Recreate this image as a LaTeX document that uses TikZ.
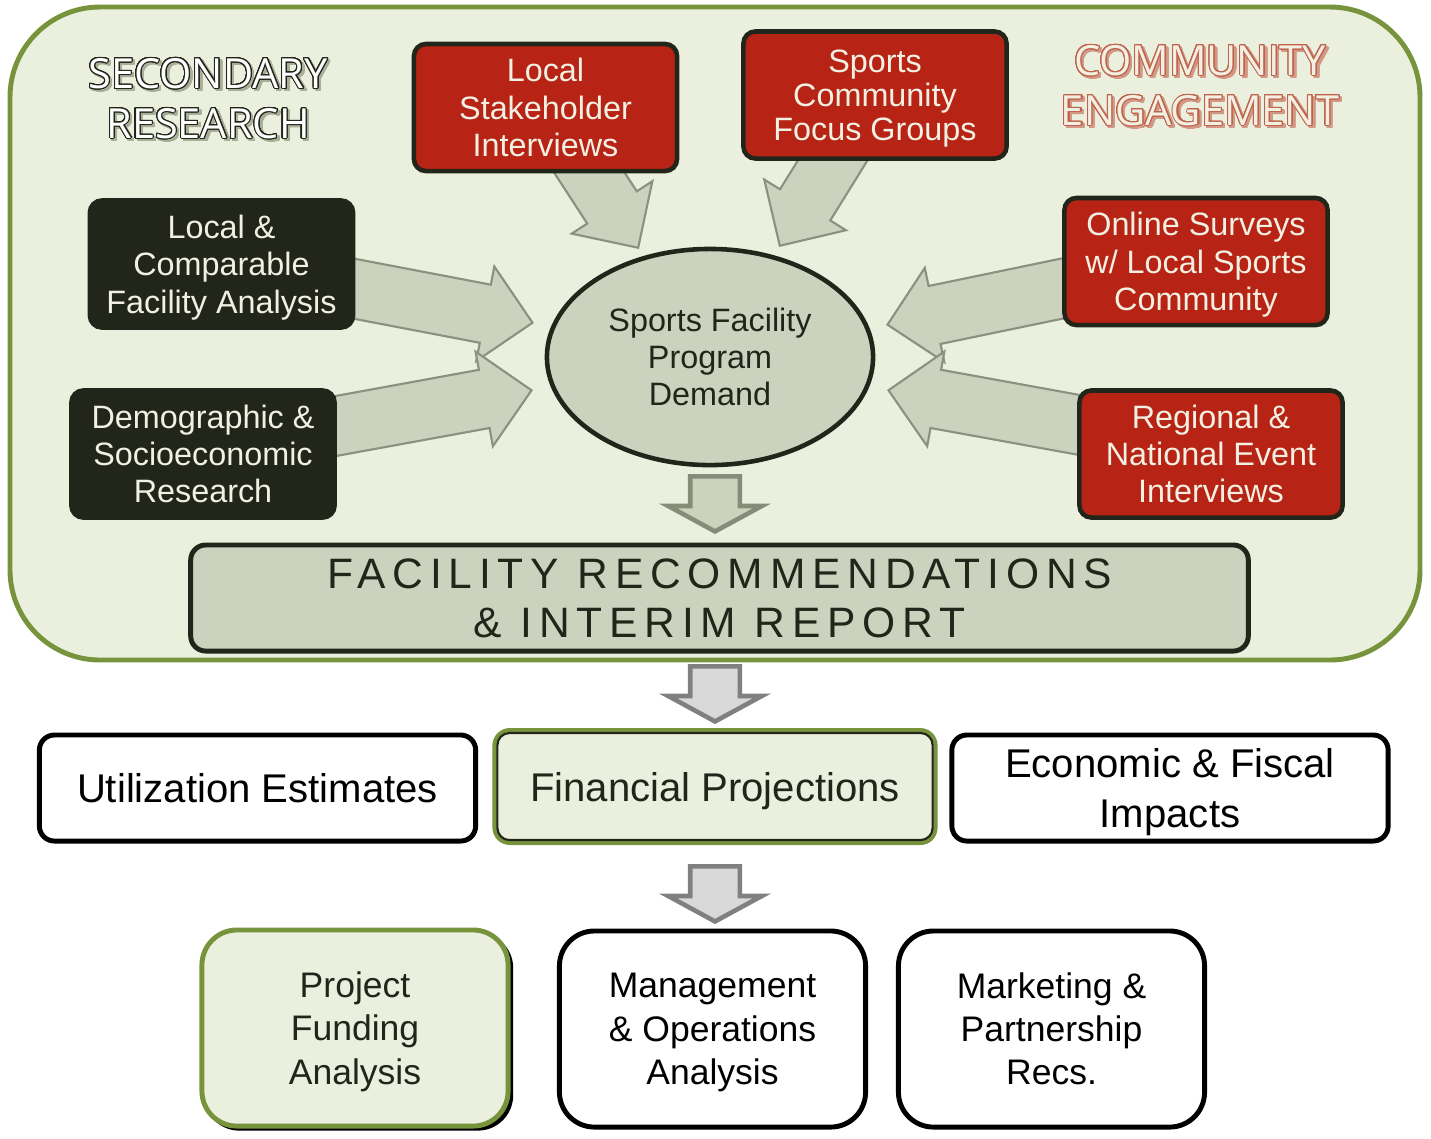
\documentclass[tikz,border=0pt]{standalone}
\usepackage{fontspec}
\setmainfont{Liberation Sans}
\newfontfamily\headfont{Open Sans}
\usepackage{contour}
\usetikzlibrary{shapes.geometric,shapes.arrows,shadows}

\definecolor{panelfill}{HTML}{EBF0DE}
\definecolor{olive}{HTML}{77933C}
\definecolor{darkbox}{HTML}{22261A}
\definecolor{redbox}{HTML}{B72314}
\definecolor{sage}{HTML}{CBD3BE}
\definecolor{sageline}{HTML}{8A917F}
\definecolor{sagedark}{HTML}{868C77}
\definecolor{cream}{HTML}{F2F0E2}
\definecolor{terra}{HTML}{C0634C}
\definecolor{terrashade}{HTML}{D29A86}
\definecolor{headshade}{HTML}{A9AE99}
\contourlength{0.3pt}
\contournumber{24}
% outlined word with a soft offset shadow behind it
\newcommand{\shadowword}[3]{\leavevmode\rlap{\kern0.7pt\raisebox{-0.7pt}{\color{#2}\contour{#2}{#3}}}\contour{#1}{#3}}

\begin{document}
\begin{tikzpicture}[x=0.01cm, y=-0.01cm,
  txt/.style={font=\fontsize{9.2}{10.6}\selectfont, align=center},
  darkbx/.style={txt, rectangle, rounded corners=0.12cm, fill=darkbox, draw=darkbox,
    line width=1.3pt, text=cream, minimum width=2.63cm, minimum height=1.27cm},
  redbx/.style={darkbx, fill=redbox},
  bigarrow/.style={single arrow, anchor=tip, fill=sage, draw=sageline, line width=0.6pt,
    inner xsep=0pt, inner ysep=0.285cm, single arrow head extend=0.185cm, single arrow tip angle=90},
  downarrow/.style={single arrow, anchor=tip, rotate=-90, line width=1.3pt, inner xsep=0pt,
    inner ysep=0.225cm, minimum height=0.55cm, single arrow head extend=0.22cm,
    single arrow tip angle=123},
  outbx/.style={rectangle, draw=black, fill=white, line width=1.4pt, align=center, text=black,
    drop shadow={shadow xshift=0.4pt, shadow yshift=-0.5pt, fill=black, opacity=1}},
  midbx/.style={outbx, rounded corners=0.15cm, minimum width=4.36cm, minimum height=1.06cm,
    font=\fontsize{11.4}{14.2}\selectfont},
  lowbx/.style={outbx, rounded corners=0.35cm, minimum width=3.06cm, minimum height=1.96cm,
    font=\fontsize{10.1}{12.3}\selectfont},
  greenbx/.style={fill=panelfill, draw=olive, text=darkbox},
  headtxt/.style={align=center, font=\headfont\fontsize{11.8}{14.2}\selectfont}
]
\useasboundingbox (0,0) rectangle (1431,1138);

% upper panel
\draw[olive, line width=1.4pt, fill=panelfill, rounded corners=0.9cm] (10,7) rectangle (1420,660);

% outlined headings
\node[headtxt, text=white] (sr) at (208,100)
  {\shadowword{darkbox}{headshade}{SECONDARY}\\\shadowword{darkbox}{headshade}{RESEARCH}};
\node[headtxt, text=cream] (ce) at (1200,87)
  {\shadowword{terra}{terrashade}{COMMUNITY}\\\shadowword{terra}{terrashade}{ENGAGEMENT}};

% block arrows into the hub
\node[bigarrow, rotate=-10.8, minimum height=1.92cm] (a1) at (534,323) {};
\node[bigarrow, rotate=10.35, minimum height=2.11cm] (a2) at (533,390) {};
\node[bigarrow, rotate=-57, minimum height=1.12cm] (a3) at (639,249) {};
\node[bigarrow, rotate=-121.8, minimum height=1.22cm] (a4) at (779,247) {};
\node[bigarrow, rotate=-168.3, minimum height=1.93cm] (a5) at (886,325) {};
\node[bigarrow, rotate=169.7, minimum height=2.06cm] (a6) at (887,390) {};

% research boxes
\node[redbx] (lsi) at (545.5,107.5) {Local\\Stakeholder\\Interviews};
\node[redbx, text depth=0pt, font=\fontsize{9.2}{9.7}\selectfont] (sfg) at (875,95) {Sports\\Community\\Focus Groups};
\node[darkbx, text depth=0pt] (lcf) at (221.5,264) {Local \&\\Comparable\\Facility Analysis};
\node[darkbx] (dsr) at (203,454) {Demographic \&\\Socioeconomic\\Research};
\node[redbx, text depth=0pt] (osl) at (1196,261.5) {Online Surveys\\w/ Local Sports\\Community};
\node[redbx] (rne) at (1211,454) {Regional \&\\National Event\\Interviews};

% hub
\node[ellipse, txt, fill=sage, draw=darkbox, line width=1.3pt, text=darkbox,
  minimum width=3.26cm, minimum height=2.16cm] (dem) at (710,357) {Sports Facility\\Program\\Demand};

\node[downarrow, fill=sage, draw=sagedark] (d1) at (715,534) {};

\node[rectangle, rounded corners=0.15cm, fill=sage, draw=darkbox, line width=1.4pt, text=darkbox,
  minimum width=10.57cm, minimum height=1.06cm, align=center,
  font=\fontsize{12.1}{14}\selectfont\addfontfeature{LetterSpace=16}] (rec) at (719.5,598)
  {FACILITY RECOMMENDATIONS\\\& INTERIM REPORT};

\node[downarrow, fill=black!15, draw=black!50] (d2) at (715,724) {};

% deliverables
\node[midbx] (ue) at (257.5,788) {Utilization Estimates};
\node[midbx, greenbx, text depth=0pt, minimum width=4.40cm, minimum height=1.12cm] (fp) at (715,786.5) {Financial Projections};
\draw[darkbox, line width=0.6pt, rounded corners=0.12cm]
  ([shift={(0.05cm,-0.05cm)}]fp.north west) rectangle ([shift={(-0.05cm,0.05cm)}]fp.south east);
\node[midbx, text depth=0pt] (ef) at (1170,788) {Economic \& Fiscal\\Impacts};

\node[downarrow, fill=black!15, draw=black!50] (d3) at (715,924) {};

\node[lowbx, greenbx, text depth=0pt,
  drop shadow={shadow xshift=1pt, shadow yshift=-1pt, shadow scale=1.01, fill=black, opacity=1}] (pf) at (355,1028) {Project\\Funding\\Analysis};
\node[lowbx, text depth=0pt] (mo) at (712.5,1029) {Management\\\& Operations\\Analysis};
\node[lowbx] (mp) at (1051.5,1029) {Marketing \&\\Partnership\\Recs.};
\end{tikzpicture}
\end{document}
